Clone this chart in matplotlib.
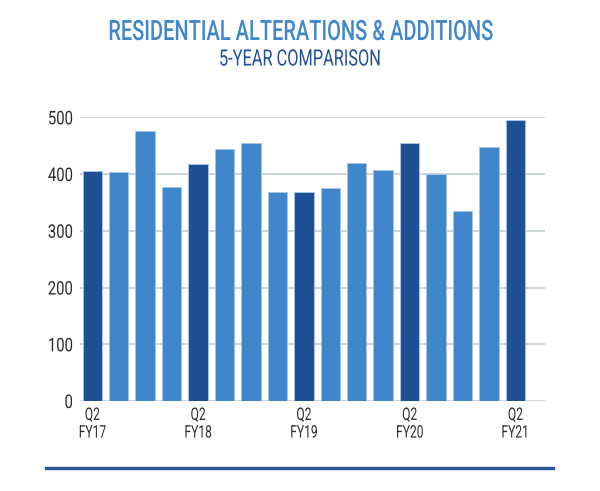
import matplotlib
matplotlib.use("Agg")
import matplotlib.pyplot as plt
from matplotlib.lines import Line2D
from matplotlib.patheffects import AbstractPathEffect
from matplotlib.transforms import Affine2D

# ---- data ----
quarters = ["Q2\nFY17", "", "", "",
            "Q2\nFY18", "", "", "",
            "Q2\nFY19", "", "", "",
            "Q2\nFY20", "", "", "",
            "Q2\nFY21"]
values = [406, 403, 476, 377,
          417, 445, 454, 368,
          368, 376, 419, 408,
          454, 400, 334, 447,
          496]
is_q2 = [q != "" for q in quarters]
yticks = [0, 100, 200, 300, 400, 500]

title = "RESIDENTIAL ALTERATIONS & ADDITIONS"
subtitle = "5-YEAR COMPARISON"

DARK = "#1f4f95"
LIGHT = "#3f86cb"
FONT = "Roboto"


class Squeeze(AbstractPathEffect):
    """Compress glyph outlines horizontally (emulates a condensed face)."""

    def __init__(self, sx=1.0, align="center"):
        super().__init__()
        self.sx = sx
        self.align = align

    def draw_path(self, renderer, gc, tpath, affine, rgbFace=None):
        if len(tpath.vertices) == 0:
            renderer.draw_path(gc, tpath, affine, rgbFace)
            return
        ext = tpath.get_extents()
        if self.align == "center":
            c = (ext.x0 + ext.x1) / 2
        elif self.align == "right":
            c = ext.x1
        else:
            c = ext.x0
        t = Affine2D().translate(-c, 0).scale(self.sx, 1).translate(c, 0) + affine
        renderer.draw_path(gc, tpath, t, rgbFace)


fig = plt.figure(figsize=(6.0, 4.91), dpi=100)
ax = fig.add_axes([80/600, (491-401)/491, (545-80)/600, (401-117.3)/491])

x = list(range(len(values)))
colors = [DARK if q else LIGHT for q in is_q2]
ax.bar(x, values, width=0.735, color=colors, edgecolor="#a6c4e8",
       linewidth=0.7, zorder=3)

ax.set_xlim(-0.465, len(values) - 1 + 1.12)
ax.set_ylim(0, 500)
ax.set_yticks(yticks)
ax.set_yticklabels([str(v) for v in yticks], fontfamily=FONT, fontsize=13.5,
                   color="#2b2b2b")
ax.set_xticks(x)
ax.set_xticklabels(quarters, fontfamily=FONT, fontsize=12.5, color="#2b2b2b",
                   linespacing=1.22)
ax.tick_params(axis="both", length=0)
ax.tick_params(axis="y", pad=5)
ax.tick_params(axis="x", pad=5)
for s in ax.spines.values():
    s.set_visible(False)
ax.yaxis.grid(True, color="#c5cfd0", linewidth=1.2, zorder=0)
ax.set_axisbelow(True)

t1 = fig.text(0.5, 1 - 32.5/491, title, ha="center", va="center",
              fontfamily=FONT, fontweight="medium", fontsize=20.2,
              color="#3f86cb")
t2 = fig.text(0.5, 1 - 60/491, subtitle, ha="center", va="center",
              fontfamily=FONT, fontsize=16.2, color="#1f4f95")

fig.add_artist(Line2D([46/600, 553/600], [1 - 468/491, 1 - 468/491],
                      color="#2a579a", linewidth=2.4,
                      transform=fig.transFigure))

# measure natural widths, then squeeze to condensed widths seen in reference
fig.canvas.draw()
r = fig.canvas.get_renderer()


def width(t):
    return t.get_window_extent(r).width


t1.set_path_effects([Squeeze(384 / width(t1), "center")])
t2.set_path_effects([Squeeze(162 / width(t2), "center")])
ylab = ax.get_yticklabels()
sy = 25 / width(ylab[-1])
for lab in ylab:
    lab.set_path_effects([Squeeze(sy, "right")])
xlab = ax.get_xticklabels()
fy = fig.text(0, 0, "FY20", fontfamily=FONT, fontsize=12.5)
sxl = 27.3 / width(fy)
fy.remove()
for lab in xlab:
    lab.set_path_effects([Squeeze(sxl, "center")])

fig.savefig("out.png", dpi=100, facecolor="white")
